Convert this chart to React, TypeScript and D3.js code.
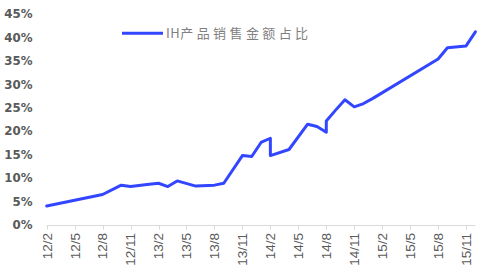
import React from "react";
import * as d3 from "d3";

const months = ["12/2","12/8","12/10","12/11","13/1","13/2","13/3","13/4","13/6","13/8","13/9","13/11","13/12","14/1","14/2","14/2","14/4","14/6","14/7","14/8","14/8","14/9","14/10","14/11","14/12","15/1","15/8","15/9","15/11","15/12"];
const shares = [4.05,6.5,8.5,8.2,8.7,8.9,8.2,9.4,8.3,8.5,8.9,14.8,14.6,17.6,18.5,14.8,16.1,21.5,21.0,19.8,22.2,24.5,26.7,25.2,25.9,27.0,35.4,37.8,38.2,41.2];
const tickLabels = ["12/2","12/5","12/8","12/11","13/2","13/5","13/8","13/11","14/2","14/5","14/8","14/11","15/2","15/5","15/8","15/11"];
const yTicks = [0,5,10,15,20,25,30,35,40,45];
const seriesCode = "IH";
const seriesName = "产品销售金额占比";
const firstMonth = "12/2";
const lastMonth = "15/12";

const idx = (s: string) => {
  const [y, m] = s.split("/").map(Number);
  return (y - 12) * 12 + (m - 2);
};

export default function App() {
  const W = 488, H = 276;
  const x = d3.scaleLinear().domain([idx(firstMonth), idx(lastMonth)]).range([46.7, 475.4]);
  const y = d3.scaleLinear().domain([0, 45]).range([225, 14]);
  const pts = months.map((m, i) => [x(idx(m)), y(shares[i])] as [number, number]);
  const line = d3.line();
  const axisY = 225.5;
  return (
    <svg width={W} height={H} style={{ position: "absolute", left: 0, top: 0 }}>
      <rect width={W} height={H} fill="#fff" />
      {yTicks.map(t => (
        <text key={t} x={32.5} y={y(t)} dy="0.36em" textAnchor="end"
          fontFamily="DejaVu Sans" fontWeight="bold" fontSize={11.8} fill="#595959">{t}%</text>
      ))}
      <line x1={x(idx(firstMonth))} x2={x(idx(lastMonth))} y1={axisY} y2={axisY} stroke="#d9d9d9" strokeWidth={1} />
      {tickLabels.map(t => (
        <g key={t}>
          <line x1={Math.round(x(idx(t))) + 0.5} x2={Math.round(x(idx(t))) + 0.5} y1={axisY} y2={axisY + 4} stroke="#d9d9d9" />
          <text transform={`translate(${x(idx(t))},233) rotate(-90)`} dy="0.36em" textAnchor="end"
            fontFamily="Liberation Sans" fontSize={13.5} fill="#595959">{t}</text>
        </g>
      ))}
      <path d={line(pts) || ""} fill="none" stroke="#3246FF" strokeWidth={3} strokeLinejoin="round" strokeLinecap="round" />
      <line x1={122} x2={163} y1={33.3} y2={33.3} stroke="#3246FF" strokeWidth={3} />
      <text x={166} y={33.3} dy="0.36em" fontFamily="Noto Sans CJK SC" fontSize={13} fill="#7f7f7f">
        <tspan letterSpacing={0.5}>{seriesCode}</tspan>
        <tspan letterSpacing={3.4}>{seriesName}</tspan>
      </text>
    </svg>
  );
}
